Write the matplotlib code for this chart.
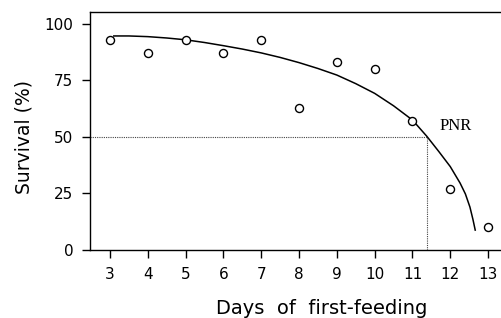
import matplotlib
matplotlib.use('Agg')
import matplotlib.pyplot as plt

# observed survival per day of first feeding
days = [3, 4, 5, 6, 7, 8, 9, 10, 11, 12, 13]
survival = [93, 87, 93, 87, 93, 63, 83, 80, 57, 27, 10]

# fitted curve
curve_x = [3.1, 3.5, 4, 4.5, 5, 5.5, 6, 6.5, 7, 7.5, 8, 8.5, 9, 9.5, 10,
           10.5, 11, 11.38, 11.7, 12, 12.26, 12.4, 12.52, 12.6, 12.66]
curve_y = [94.7, 94.7, 94.4, 93.8, 93.0, 91.8, 90.4, 88.9, 87.2, 85.2, 82.9,
           80.3, 77.4, 73.6, 69.3, 63.8, 57.5, 50.3, 43.5, 36.9, 29.6, 24.8,
           19.0, 13.5, 8.8]

pnr_day = 11.38
pnr_level = 50

fig = plt.figure(figsize=(5.02, 3.18), dpi=100)
ax = fig.add_axes([90/502, 68/318, 420/502, 238/318])

ax.plot(curve_x, curve_y, color='black', linewidth=1.1)
ax.plot(days, survival, linestyle='none', marker='o', markersize=5.8,
        markerfacecolor='white', markeredgecolor='black', markeredgewidth=1.0)

# dotted guide lines to the point of no return
ax.plot([2.47, pnr_day], [pnr_level, pnr_level], color='#444444',
        linestyle=(0, (1, 1)), linewidth=0.8)
ax.plot([pnr_day, pnr_day], [0, pnr_level], color='#444444',
        linestyle=(0, (1, 1)), linewidth=0.8)

ax.text(12.15, 55, 'PNR', fontsize=12, family='Liberation Serif',
        ha='center', va='center')

ax.set_xlim(2.47, 13.58)
ax.set_ylim(0, 105.3)
ax.set_xticks(days)
ax.set_yticks([0, 25, 50, 75, 100])
ax.tick_params(direction='out', length=6, width=1, labelsize=11, pad=6)
for s in ax.spines.values():
    s.set_linewidth(1.0)

ax.set_ylabel('Survival (%)', fontsize=13.5)
ax.yaxis.set_label_coords(-57/420, 0.475)
fig.text(322/502, 1 - 309/318, 'Days  of  first-feeding', fontsize=14,
         ha='center', va='center')

fig.savefig('out.png', dpi=100)
